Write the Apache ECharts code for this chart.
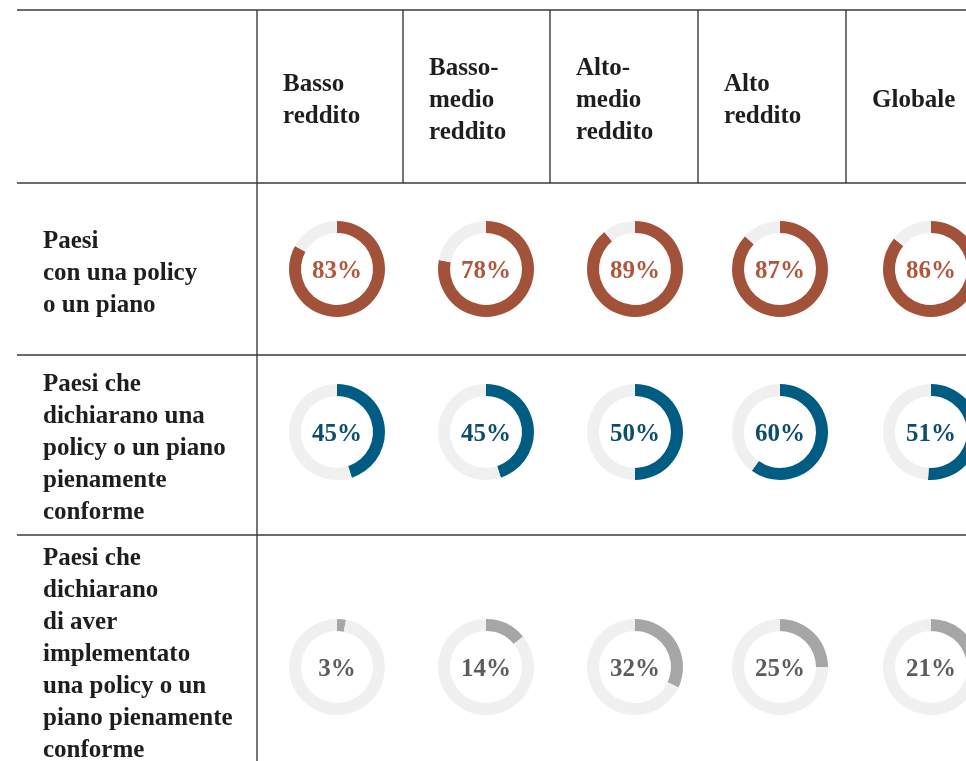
<!DOCTYPE html>
<html>
<head>
<meta charset="utf-8">
<script src="https://cdn.jsdelivr.net/npm/echarts@6/dist/echarts.min.js"></script>
<style>
  html, body { margin: 0; padding: 0; background: #ffffff; }
  #chart { width: 966px; height: 761px; }
</style>
</head>
<body>
<div id="chart"></div>
<script>
// Income groups (column headers)
const incomeGroups = ['Basso\nreddito', 'Basso-\nmedio\nreddito', 'Alto-\nmedio\nreddito', 'Alto\nreddito', 'Globale'];

// Indicators (row labels)
const indicators = [
  'Paesi\ncon una policy\no un piano',
  'Paesi che\ndichiarano una\npolicy o un piano\npienamente\nconforme',
  'Paesi che\ndichiarano\ndi aver\nimplementato\nuna policy o un\npiano pienamente\nconforme'
];

// Share of countries (%) per income group
const withPolicy = [83, 78, 89, 87, 86];
const fullyCompliant = [45, 45, 50, 60, 51];
const implemented = [3, 14, 32, 25, 21];

const rowValues = [withPolicy, fullyCompliant, implemented];
const ringColors = ['#a3523a', '#005c83', '#a6a6a6'];
const labelColors = ['#b0563d', '#0d4d6c', '#5c5c5c'];
const trackColor = '#f0f0f0';

// Table geometry
const colLines = [257, 403, 550, 698, 846];
const colCenters = [337, 486, 635, 780, 931];
const rowLines = [10, 183, 355, 535];
const rowCenters = [269, 432, 667];
const labelCenters = [274, 449, 655];
const headerCenter = 101;
const FONT = '"Liberation Serif", "Times New Roman", serif';

const chart = echarts.init(document.getElementById('chart'), null, { renderer: 'canvas' });

const series = [];
rowValues.forEach((vals, r) => {
  vals.forEach((v, c) => {
    series.push({
      type: 'pie',
      silent: true,
      center: [colCenters[c], rowCenters[r]],
      radius: [36, 48],
      startAngle: 90,
      clockwise: true,
      avoidLabelOverlap: false,
      labelLine: { show: false },
      emphasis: { disabled: true },
      data: [
        {
          value: v,
          itemStyle: { color: ringColors[r] },
          label: {
            show: true,
            position: 'center',
            formatter: '{c}%',
            fontFamily: FONT,
            fontWeight: 'bold',
            fontSize: 25,
            offset: [0, 3],
            color: labelColors[r]
          }
        },
        {
          value: 100 - v,
          itemStyle: { color: trackColor },
          label: { show: false }
        }
      ]
    });
  });
});

const graphics = [];
const lineStyle = { stroke: '#3a3a3a', lineWidth: 1.4 };
// horizontal rules
rowLines.forEach((y) => {
  graphics.push({ type: 'line', shape: { x1: 17, y1: y, x2: 966, y2: y }, style: lineStyle, z: 10 });
});
// first column separator runs the full height
graphics.push({ type: 'line', shape: { x1: colLines[0], y1: rowLines[0], x2: colLines[0], y2: 761 }, style: lineStyle, z: 10 });
// header separators
colLines.slice(1).forEach((x) => {
  graphics.push({ type: 'line', shape: { x1: x, y1: rowLines[0], x2: x, y2: rowLines[1] }, style: lineStyle, z: 10 });
});
// column headers
incomeGroups.forEach((t, i) => {
  graphics.push({
    type: 'text',
    x: colLines[i] + 26,
    y: headerCenter,
    style: {
      text: t,
      fontFamily: FONT,
      fontWeight: 'bold',
      fontSize: 25,
      lineHeight: 32,
      fill: '#1e1e1e',
      verticalAlign: 'middle',
      align: 'left'
    },
    z: 10
  });
});
// row labels
indicators.forEach((t, i) => {
  graphics.push({
    type: 'text',
    x: 43,
    y: labelCenters[i],
    style: {
      text: t,
      fontFamily: FONT,
      fontWeight: 'bold',
      fontSize: 25,
      lineHeight: 32,
      fill: '#1e1e1e',
      verticalAlign: 'middle',
      align: 'left'
    },
    z: 10
  });
});

chart.setOption({
  animation: false,
  backgroundColor: '#ffffff',
  series: series,
  graphic: graphics
});
</script>
</body>
</html>
